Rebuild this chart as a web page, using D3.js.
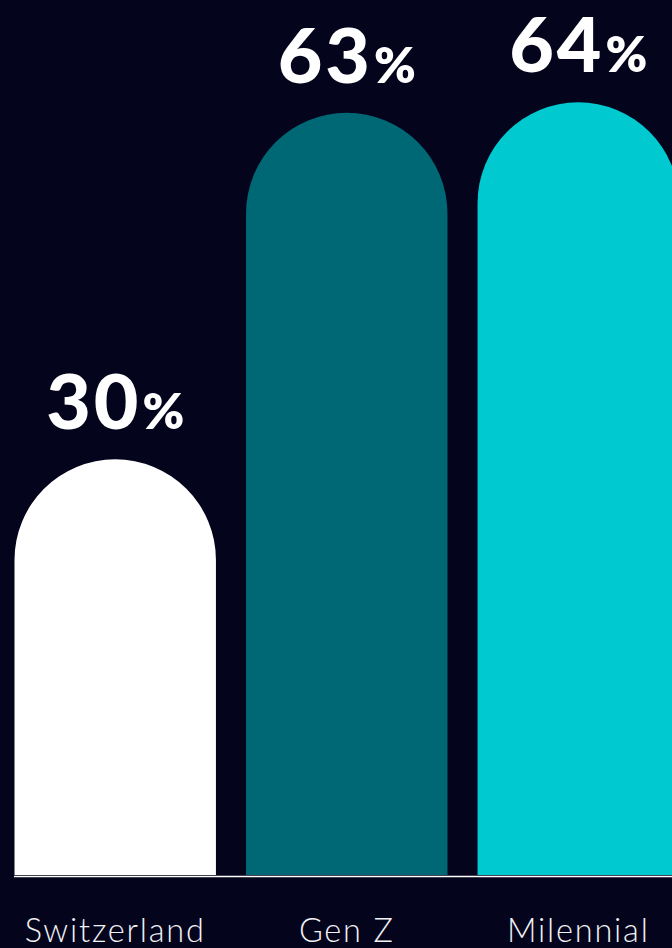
<!DOCTYPE html>
<html>
<head>
<meta charset="utf-8">
<script src="https://cdn.jsdelivr.net/npm/d3@7"></script>
<style>
  html, body { margin: 0; padding: 0; background: #04041d; }
  svg { display: block; }
</style>
</head>
<body>
<svg id="chart" width="672" height="948"></svg>
<script>
// Share of respondents, by group
const categories = ["Switzerland", "Gen Z", "Milennial"];
const values = [30, 63, 64];
const colors = ["#ffffff", "#006774", "#00c9d0"];

const W = 672, H = 948;
const baseY = 875;

const svg = d3.select("#chart");
svg.append("rect").attr("width", W).attr("height", H).attr("fill", "#04041d");

const x = d3.scaleBand()
  .domain(categories)
  .range([14.5, 679])
  .paddingInner(0.13)
  .paddingOuter(0);

// the straight part of each bar is scaled; a half-round cap sits on top
const y = d3.scaleLinear().domain([0, 100]).range([baseY, baseY - 1050]);

const r = x.bandwidth() / 2;

function barPath(cat, v) {
  const x0 = x(cat), w = x.bandwidth();
  const top = y(v);
  const p = d3.path();
  p.moveTo(x0, baseY);
  p.lineTo(x0, top);
  p.arc(x0 + w / 2, top, w / 2, Math.PI, 2 * Math.PI);
  p.lineTo(x0 + w, baseY);
  p.closePath();
  return p.toString();
}

const data = categories.map((c, i) => ({ cat: c, value: values[i], color: colors[i] }));

svg.append("g").selectAll("path")
  .data(data)
  .join("path")
  .attr("d", d => barPath(d.cat, d.value))
  .attr("fill", d => d.color);

// baseline
svg.append("line")
  .attr("x1", 14).attr("x2", W)
  .attr("y1", baseY + 1.5).attr("y2", baseY + 1.5)
  .attr("stroke", "#ffffff").attr("stroke-width", 1.6);

// value labels above the caps
const labels = svg.append("g").selectAll("text")
  .data(data)
  .join("text")
  .attr("x", d => x(d.cat) + x.bandwidth() / 2)
  .attr("y", d => y(d.value) - r - 30)
  .attr("text-anchor", "middle")
  .attr("fill", "#ffffff")
  .attr("font-family", "Lato, sans-serif")
  .attr("font-weight", 900);

labels.append("tspan")
  .attr("font-size", 77)
  .attr("letter-spacing", 3)
  .text(d => d.value);
labels.append("tspan")
  .attr("font-size", 50)
  .attr("font-weight", 800)
  .attr("dx", 1)
  .text("%");

// category labels
svg.append("g").selectAll("text")
  .data(data)
  .join("text")
  .attr("x", d => x(d.cat) + x.bandwidth() / 2)
  .attr("y", 942)
  .attr("text-anchor", "middle")
  .attr("fill", "#f2f2f4")
  .attr("font-family", "Lato, sans-serif")
  .attr("font-weight", 300)
  .attr("font-size", 32.5)
  .attr("letter-spacing", 1.8)
  .text(d => d.cat);
</script>
</body>
</html>
